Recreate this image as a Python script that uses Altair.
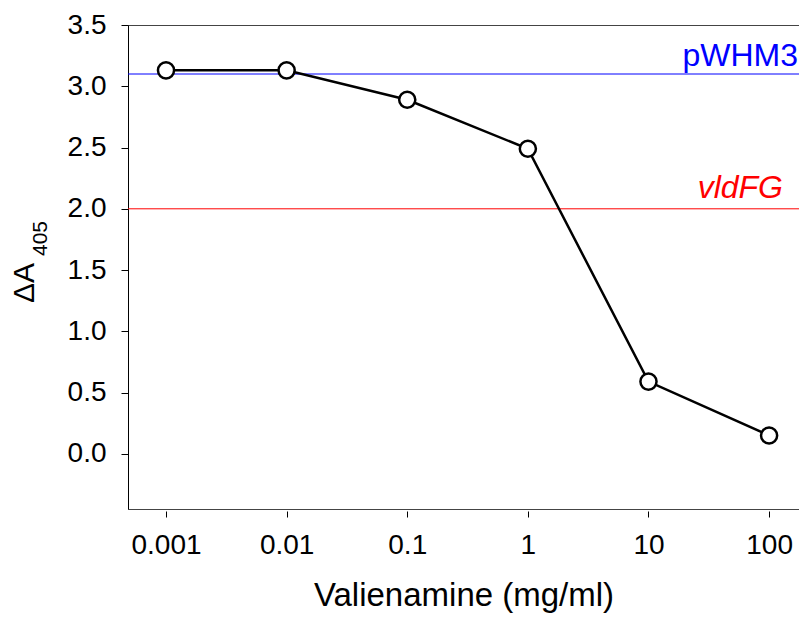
import altair as alt
import pandas as pd

conc = [0.001, 0.01, 0.1, 1, 10, 100]
delta_a = [3.13, 3.13, 2.89, 2.49, 0.59, 0.15]
ref_names = ["pWHM3", "vldFG"]
ref_values = [3.10, 2.00]
ref_colors = ["#0000ff", "#ff0000"]
x_ticks = [0.001, 0.01, 0.1, 1, 10, 100]
y_ticks = [0.0, 0.5, 1.0, 1.5, 2.0, 2.5, 3.0, 3.5]

df = pd.DataFrame({"conc": conc, "a": delta_a})
ref1 = pd.DataFrame({"name": [ref_names[0]], "v": [ref_values[0]]})
ref2 = pd.DataFrame({"name": [ref_names[1]], "v": [ref_values[1]]})

FONT = "Liberation Sans"
W, H = 671, 484

xscale = alt.Scale(type="log", domain=[0.000484, 177], nice=False)
yscale = alt.Scale(domain=[-0.45, 3.5], nice=False, zero=False)

xenc = alt.X("conc:Q", scale=xscale,
             axis=alt.Axis(values=x_ticks, format="~g", title="Valienamine (mg/ml)",
                           grid=False, domain=False, offset=2, tickSize=6, tickColor="black",
                           labelFontSize=28, labelFont=FONT, labelColor="black", labelPadding=14,
                           titleFontSize=33, titleFont=FONT, titleFontWeight="normal",
                           titleColor="black", titlePadding=20, labelFlush=False))
yenc = alt.Y("a:Q", scale=yscale,
             axis=alt.Axis(values=y_ticks, format=".1f", title=None,
                           grid=False, domainColor="black", tickColor="black", tickSize=7,
                           labelFontSize=28, labelFont=FONT, labelColor="black", labelPadding=15,
                           labelFlush=False))

rule1 = alt.Chart(ref1).mark_rule(strokeWidth=1, color=ref_colors[0]).encode(
    y=alt.Y("v:Q", scale=yscale))
rule2 = alt.Chart(ref2).mark_rule(strokeWidth=1, color=ref_colors[1]).encode(
    y=alt.Y("v:Q", scale=yscale))

lbl1 = alt.Chart(ref1).mark_text(
    align="right", baseline="alphabetic", dx=-1, dy=-8, fontSize=32, font=FONT,
    color=ref_colors[0]
).encode(x=alt.value(W), y=alt.Y("v:Q", scale=yscale), text="name:N")
lbl2 = alt.Chart(ref2).mark_text(
    align="right", baseline="alphabetic", dx=-16, dy=-11, fontSize=32, font=FONT,
    fontStyle="italic", color=ref_colors[1]
).encode(x=alt.value(W), y=alt.Y("v:Q", scale=yscale), text="name:N")

ytitle_main = alt.Chart(pd.DataFrame({"t": ["ΔA"]})).mark_text(
    align="left", baseline="alphabetic", angle=270, fontSize=30, font=FONT, color="black"
).encode(x=alt.value(-94), y=alt.value(278), text="t:N")
ytitle_sub = alt.Chart(pd.DataFrame({"t": ["405"]})).mark_text(
    align="left", baseline="alphabetic", angle=270, fontSize=21, font=FONT, color="black"
).encode(x=alt.value(-81), y=alt.value(231), text="t:N")

line = alt.Chart(df).mark_line(color="black", strokeWidth=2.5).encode(x=xenc, y=yenc)
pts = alt.Chart(df).mark_point(shape="circle", filled=True, fill="white", stroke="black",
                               strokeWidth=2.5, size=260, opacity=1).encode(
    x=alt.X("conc:Q", scale=xscale), y=alt.Y("a:Q", scale=yscale))

chart = alt.layer(rule1, rule2, lbl1, lbl2, ytitle_main, ytitle_sub, line, pts).properties(
    width=W, height=H,
    autosize=alt.AutoSizeParams(type="none"),
    padding={"left": 120, "top": 17, "right": 0, "bottom": 106},
    background="white",
).configure_view(stroke="#444444", strokeWidth=1)

chart.save("out.html", embed_options={"renderer": "svg", "actions": False})
